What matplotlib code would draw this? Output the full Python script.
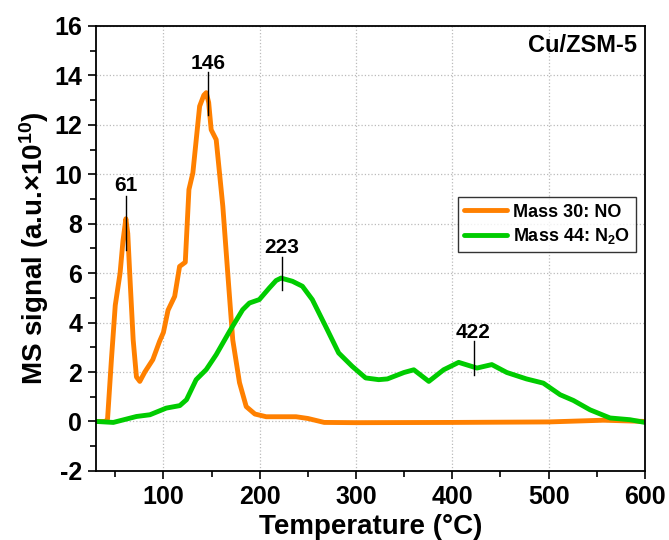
import matplotlib
matplotlib.use('Agg')
import matplotlib.pyplot as plt

plt.rcParams['font.family'] = ['Liberation Sans', 'DejaVu Sans']
plt.rcParams['font.weight'] = 'bold'
plt.rcParams['axes.unicode_minus'] = False
plt.rcParams['mathtext.fontset'] = 'custom'
plt.rcParams['mathtext.rm'] = 'Liberation Sans:bold'
plt.rcParams['mathtext.bf'] = 'Liberation Sans:bold'
plt.rcParams['mathtext.it'] = 'Liberation Sans:bold'

# Mass 30: NO
no_t = [30, 40, 42, 46, 50, 55, 58, 61, 63, 65, 68.6, 72, 75.5, 80.7, 89, 96, 100, 104.8,
        111.7, 116.8, 122.7, 126.5, 130.6, 137.6, 142, 144.5, 147, 149.6, 154.8, 161.7, 166.8, 172,
        179, 186, 195, 206.7, 237.7, 250, 267, 300, 400, 500, 557, 600]
no_s = [0, 0, 0.1, 2.5, 4.7, 6.0, 7.3, 8.2, 7.6, 6.0, 3.3, 1.8, 1.62, 2.0, 2.5, 3.24, 3.6, 4.5,
        5.06, 6.27, 6.44, 9.38, 10.06, 12.75, 13.2, 13.3, 12.9, 11.8, 11.4, 8.7, 6.0, 3.3,
        1.57, 0.6, 0.3, 0.19, 0.19, 0.12, -0.04, -0.05, -0.04, -0.02, 0.05, 0.0]

# Mass 44: N2O
n2o_t = [30, 48, 72, 86, 103, 117, 124, 134, 144.5, 154.8, 168.6, 182.3, 189.3, 199.6, 210,
         217, 222.2, 234, 244.3, 254.6, 268.4, 282, 296, 310, 323.6, 332.6, 349.8, 360, 375.6,
         391, 406.6, 425.6, 441, 456.6, 477, 494.5, 512, 525.7, 543, 563.8, 584.5, 600]
n2o_s = [0, -0.04, 0.2, 0.27, 0.54, 0.64, 0.88, 1.69, 2.1, 2.7, 3.64, 4.52, 4.79, 4.93, 5.4,
         5.7, 5.8, 5.67, 5.47, 4.93, 3.85, 2.77, 2.23, 1.76, 1.69, 1.72, 1.98, 2.09, 1.62,
         2.09, 2.39, 2.16, 2.3, 1.98, 1.72, 1.55, 1.08, 0.85, 0.47, 0.14, 0.07, -0.04]

# peak labels: temperature, text height, line top, line bottom
peak_t = [61, 146, 223, 422]
peak_txt_y = [9.55, 14.5, 7.05, 3.58]
peak_top = [9.1, 14.13, 6.65, 3.24]
peak_bot = [6.95, 12.38, 5.33, 1.89]

fig = plt.figure(figsize=(6.69, 5.40), dpi=100)
ax = fig.add_axes([0.1435, 0.128, 0.8205, 0.824])

ax.plot(no_t, no_s, color='#FF8000', lw=3.5, label='Mass 30: NO',
        solid_capstyle='round', solid_joinstyle='round')
ax.plot(n2o_t, n2o_s, color='#00CC00', lw=3.5, label='Mass 44: N$_2$O',
        solid_capstyle='round', solid_joinstyle='round')

for t, ty, y1, y2 in zip(peak_t, peak_txt_y, peak_top, peak_bot):
    ax.plot([t, t], [y2, y1], color='black', lw=1)
    ax.text(t, ty, str(t), ha='center', va='center', fontsize=15, fontweight='bold')

ax.text(0.985, 0.955, 'Cu/ZSM-5', transform=ax.transAxes, ha='right', va='center',
        fontsize=17, fontweight='bold')

ax.set_xlim(30, 600)
ax.set_ylim(-2, 16)
ax.set_xticks([100, 200, 300, 400, 500, 600])
ax.set_xticks(range(50, 601, 100), minor=True)
ax.set_yticks(range(-2, 17, 2))
ax.set_yticks(range(-1, 16, 2), minor=True)
ax.tick_params(which='major', direction='out', length=6, width=1.2, labelsize=18, pad=4)
ax.tick_params(which='minor', direction='out', length=4, width=1.2)
for lab in ax.get_xticklabels() + ax.get_yticklabels():
    lab.set_fontweight('bold')
for s in ax.spines.values():
    s.set_linewidth(1.3)

ax.grid(True, which='major', linestyle=':', color='#bbbbbb', lw=0.9)

ax.set_xlabel('Temperature (°C)', fontsize=20, fontweight='bold', labelpad=4)
ax.set_ylabel('MS signal (a.u.×10$^{10}$)', fontsize=20, fontweight='bold', labelpad=2)

leg = ax.legend(loc='upper right', bbox_to_anchor=(0.984, 0.615), fontsize=13,
                frameon=True, fancybox=False, edgecolor='black', handlelength=2.4,
                handletextpad=0.3, borderpad=0.35, labelspacing=0.3, borderaxespad=0)
leg.get_frame().set_linewidth(1.0)
for txt in leg.get_texts():
    txt.set_fontweight('bold')

fig.savefig('out.png', dpi=100)
